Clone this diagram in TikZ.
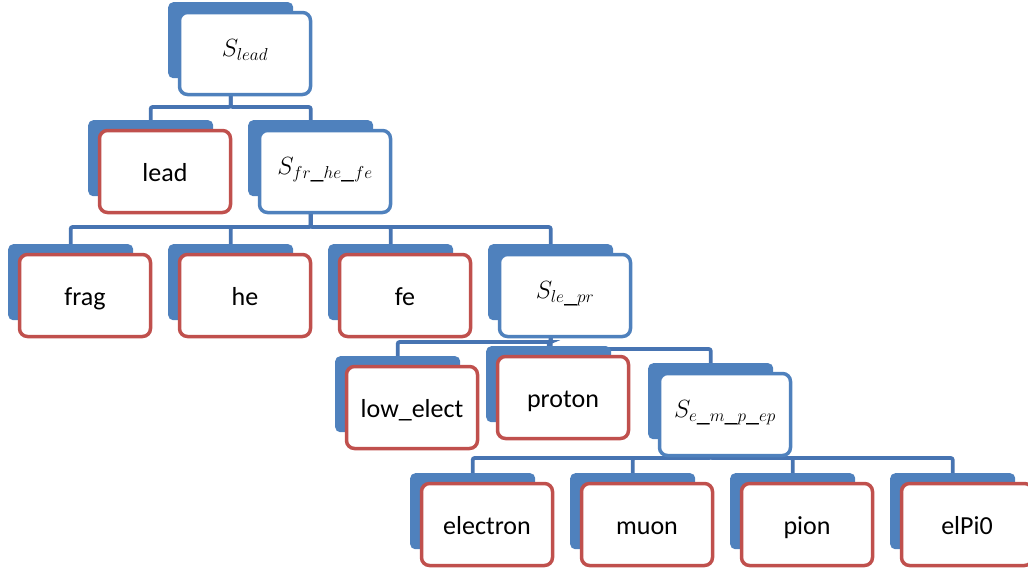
\documentclass[tikz,border=0pt]{standalone}
\usepackage{fontspec}
\setmainfont{Carlito}
\usetikzlibrary{backgrounds}
\definecolor{accblue}{HTML}{4F81BD}
\definecolor{accred}{HTML}{C0504D}
\definecolor{connblue}{HTML}{4774B2}
\tikzset{
  backbox/.style={fill=accblue, rounded corners=5pt, minimum width=125pt, minimum height=76pt, inner sep=0pt, anchor=north west},
  frontbox/.style={fill=white, line width=3.5pt, rounded corners=8pt, minimum width=131pt, minimum height=82pt, inner sep=0pt, font=\fontsize{26}{30}\selectfont},
  leafbox/.style={frontbox, draw=accred, text height=20pt, text depth=0pt},
  groupbox/.style={frontbox, draw=accblue, text height=12pt, text depth=6pt},
  conn/.style={draw=connblue, line width=3.8pt, rounded corners=2pt}
}
\newcommand{\entity}[5]{%
  \node[backbox] (#1-b) at (#2,#3) {};
  \node[#4] (#1) at (#2+77,#3+51.5) {#5};
}
\begin{document}
\begin{tikzpicture}[x=1pt,y=-1pt]
\useasboundingbox (0,0) rectangle (1028,571);
% level 1
\entity{slead}{168}{2}{groupbox}{$S_{lead}$}
% level 2
\entity{lead}{88}{120}{leafbox}{lead}
\entity{sfr}{248}{120}{groupbox}{$S_{fr\_he\_fe}$}
% level 3
\entity{frag}{8}{244}{leafbox}{frag}
\entity{he}{168}{244}{leafbox}{he}
\entity{fe}{328}{244}{leafbox}{fe}
\entity{slepr}{488}{244}{groupbox}{$S_{le\_pr}$}
% level 4
\entity{lowel}{335}{356}{leafbox}{low\_elect}
\entity{proton}{486}{346}{leafbox}{proton}
\entity{semp}{648}{363}{groupbox}{$S_{e\_m\_p\_ep}$}
% level 5
\entity{electron}{410}{473}{leafbox}{electron}
\entity{muon}{570}{473}{leafbox}{muon}
\entity{pion}{730}{473}{leafbox}{pion}
\entity{elpi}{890}{473}{leafbox}{elPi0}
% connectors
\begin{pgfonlayer}{background}
\foreach \c in {lead,sfr}
  \draw[conn] (slead-b.south) -- (slead-b.south |- 0,107) -| (\c-b.north);
\foreach \c in {frag,he,fe,slepr}
  \draw[conn] (sfr-b.south) -- (sfr-b.south |- 0,227) -| (\c-b.north);
\foreach \c in {lowel,proton}
  \draw[conn] (slepr-b.south) -- (slepr-b.south |- 0,342) -| (\c-b.north);
\draw[conn] (slepr-b.south) -- (slepr-b.south |- 0,349) -| (semp-b.north);
\foreach \c in {electron,muon,pion,elpi}
  \draw[conn] (semp-b.south) -- (semp-b.south |- 0,458) -| (\c-b.north);
\end{pgfonlayer}
\end{tikzpicture}
\end{document}
